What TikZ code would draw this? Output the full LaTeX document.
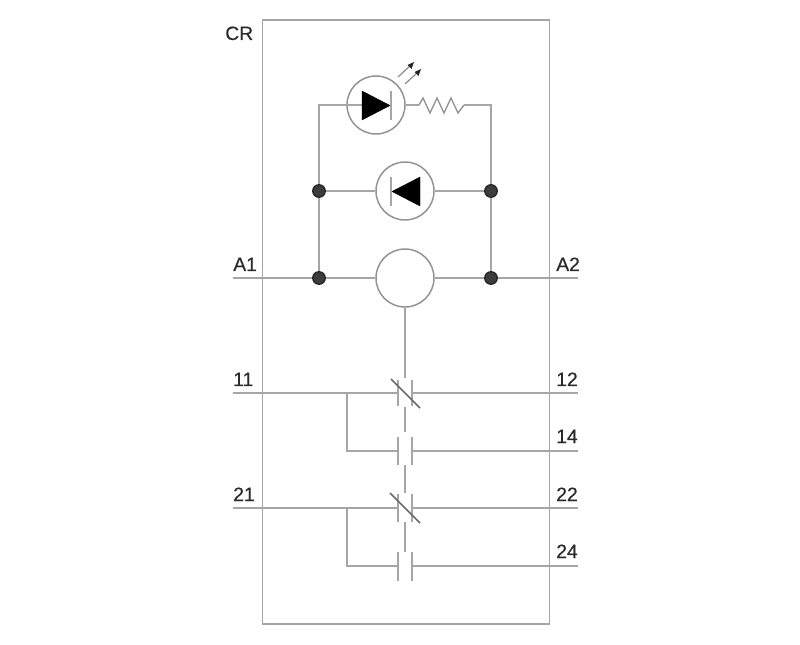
\documentclass[tikz,border=0pt]{standalone}
\usepackage{fontspec}
\setmainfont{Liberation Sans}
\usetikzlibrary{backgrounds}
\definecolor{wirecol}{HTML}{A6A6A6}
\definecolor{ringcol}{HTML}{929292}
\definecolor{dotcol}{HTML}{3C3C3C}
\definecolor{labcol}{HTML}{2A2A2A}
\definecolor{slashcol}{HTML}{6A6A6A}
\definecolor{framecol}{HTML}{A6A6A6}
\begin{document}
\begin{tikzpicture}[x=0.75pt,y=-0.75pt,
  wire/.style={draw=wirecol,line width=1.25pt},
  thin wire/.style={draw=wirecol,line width=1pt},
  ring/.style={circle,draw=ringcol,line width=1.1pt,fill=white,minimum size=43.5pt,inner sep=0pt},
  dot/.style={circle,fill=dotcol,draw=black!85,line width=1pt,minimum size=9.4pt,inner sep=0pt},
  lab/.style={anchor=base west,inner sep=0pt,text=labcol,font=\fontsize{14.5pt}{16pt}\selectfont\addfontfeature{FakeBold=0.35}},
  blade/.style={draw=wirecol,line width=1.25pt},
  slash/.style={draw=slashcol,line width=1.1pt},
  solid fill/.style={fill=black,draw=black,line width=0.3pt}]
\useasboundingbox (0,0) rectangle (800,645);
% frame
\node[draw=framecol,line width=1.2pt,minimum width=215.25pt,minimum height=453pt,inner sep=0pt,anchor=north west] (frame) at (261.5,19) {};
% terminals and bends
\coordinate (tA1) at (233,278); \coordinate (tA2) at (578,278);
\coordinate (t11) at (233,393); \coordinate (t12) at (578,393);
\coordinate (t14) at (578,451);
\coordinate (t21) at (233,508); \coordinate (t22) at (578,508);
\coordinate (t24) at (578,566);
\coordinate (tl) at (319,105); \coordinate (tr) at (491,105);
\coordinate (b1) at (347,393); \coordinate (b1e) at (347,451);
\coordinate (b2) at (347,508); \coordinate (b2e) at (347,566);
% junctions
\node[dot] (jl1) at (319,191) {};
\node[dot] (jr1) at (491,191) {};
\node[dot] (jl2) at (319,278) {};
\node[dot] (jr2) at (491,278) {};
% rings
\node[ring] (led) at (376,105) {};
\node[ring] (dio) at (405,191) {};
\node[ring] (coil) at (405,278) {};
% wires
\begin{scope}[on background layer]
\path[wire] (led.west) -- (tl) -- (jl1);
\path[wire] (jl1) -- (jl2);
\path[wire] (jl1) -- (dio);
\path[wire] (dio) -- (jr1);
\path[wire] (tA1) -- (jl2);
\path[wire] (jl2) -- (coil);
\path[wire] (coil) -- (jr2);
\path[wire] (jr2) -- (tA2);
\path[wire] (jr1) -- (jr2);
\path[wire] (jr1) -- (tr) -- (464,105);
\path[wire] (led.east) -- (419,105);
\end{scope}
% led lead inside the ring
\path[thin wire] (led.west) -- (362,105);
% resistor
\path[thin wire,draw=ringcol,line join=miter] (419,105) -- (423,98) -- (430,113) -- (437,98) -- (444,113) -- (451,98) -- (458,113) -- (464,105);
% led
\path[solid fill] (362,91) -- (390,105.5) -- (362,120) -- cycle;
\path[blade] (391,91) -- (391,120);
% emission arrows
\path[draw=black!45,line width=.9pt] (398,77) -- (411,65);
\path[draw=black!45,line width=.9pt] (405,84) -- (418,72);
\path[fill=black!85] (414,62) -- (411.5,69) -- (407.5,65) -- cycle;
\path[fill=black!85] (421,69) -- (418.5,76) -- (414.5,72) -- cycle;
% diode
\path[solid fill] (420,177) -- (392,191.5) -- (420,206) -- cycle;
\path[blade] (391,177) -- (391,206);
% contact set 1
\path[wire] (t11) -- (398,393);
\path[wire] (412,393) -- (t12);
\path[wire] (b1) -- (b1e) -- (398,451);
\path[wire] (412,451) -- (t14);
\path[blade] (398,380) -- (398,406);
\path[blade] (412,380) -- (412,406);
\path[blade] (398,437) -- (398,465);
\path[blade] (412,437) -- (412,465);
\path[slash] (391,379) -- (420,408);
% contact set 2
\path[wire] (t21) -- (398,508);
\path[wire] (412,508) -- (t22);
\path[wire] (b2) -- (b2e) -- (398,566);
\path[wire] (412,566) -- (t24);
\path[blade] (398,494) -- (398,522);
\path[blade] (412,494) -- (412,522);
\path[blade] (398,552) -- (398,581);
\path[blade] (412,552) -- (412,581);
\path[slash] (390,493) -- (420,523);
% mechanical link
\path[thin wire] (coil.south) -- (405,378);
\path[thin wire] (405,407) -- (405,432);
\path[thin wire] (405,465) -- (405,493);
\path[thin wire] (405,522) -- (405,552);
% labels
\node[lab] (lcr) at (225,40) {CR};
\node[lab] (la1) at (233,271) {A1};
\node[lab] (la2) at (556,271) {A2};
\node[lab] (l11) at (233,386) {11};
\node[lab] (l12) at (556,386) {12};
\node[lab] (l14) at (556,443) {14};
\node[lab] (l21) at (233,501) {21};
\node[lab] (l22) at (556,501) {22};
\node[lab] (l24) at (556,558) {24};
\end{tikzpicture}
\end{document}
